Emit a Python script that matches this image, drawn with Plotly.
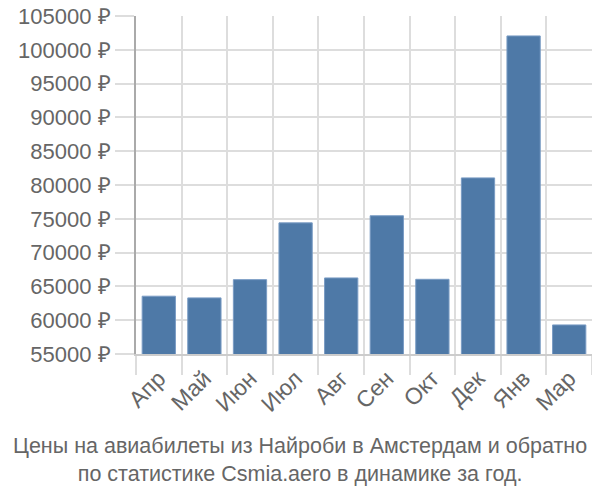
import plotly.graph_objects as go

months = ["Апр", "Май", "Июн", "Июл", "Авг", "Сен", "Окт", "Дек", "Янв", "Мар"]
prices = [63550, 63300, 66000, 74400, 66250, 75450, 66050, 81050, 102050, 59300]
y_ticks = list(range(55000, 105001, 5000))
y_tick_text = [f"{v} ₽" for v in y_ticks]
title_lines = ["Цены на авиабилеты из Найроби в Амстердам и обратно",
               "по статистике Csmia.aero в динамике за год."]

# page body has an 8px default margin, so the figure is sized to fit inside the window
W, H = 584, 484
L, R, T, B = 128, 0, 8, 138
plot_w = W - L - R
plot_h = H - T - B

fig = go.Figure(go.Bar(
    x=months, y=prices,
    marker=dict(color="#4e79a7", line=dict(color="#7a9cc4", width=1)),
))

fig.update_layout(
    width=W, height=H,
    margin=dict(l=L, r=R, t=T, b=B),
    paper_bgcolor="white", plot_bgcolor="white",
    font=dict(family="Liberation Sans, Arial, sans-serif", size=22, color="#666"),
    bargap=0.27,
    showlegend=False,
    annotations=[dict(
        text="<br>".join(title_lines),
        x=(292 - L) / plot_w, xref="paper", xanchor="center",
        y=-(452 - (T + plot_h)) / plot_h, yref="paper", yanchor="middle",
        showarrow=False,
        font=dict(size=21.5, color="#666"),
    )],
)
fig.update_xaxes(
    tickson="boundaries", ticks="outside", ticklen=19, tickcolor="#ddd", tickwidth=2,
    showgrid=True, gridcolor="#ddd", gridwidth=2,
    showline=True, linecolor="#ccc", linewidth=2,
    tickangle=-45, tickfont=dict(size=23, color="#666"),
    automargin=False,
)
fig.update_yaxes(
    range=[55000, 105000], tickvals=y_ticks, ticktext=y_tick_text,
    ticks="outside", ticklen=19, tickcolor="#ddd", tickwidth=2,
    showgrid=True, gridcolor="#ddd", gridwidth=2,
    showline=True, linecolor="#aaa", linewidth=2,
    tickfont=dict(size=22, color="#666"), zeroline=False,
    ticklabeloverflow="allow", automargin=False,
)
fig.write_html("out.html")
